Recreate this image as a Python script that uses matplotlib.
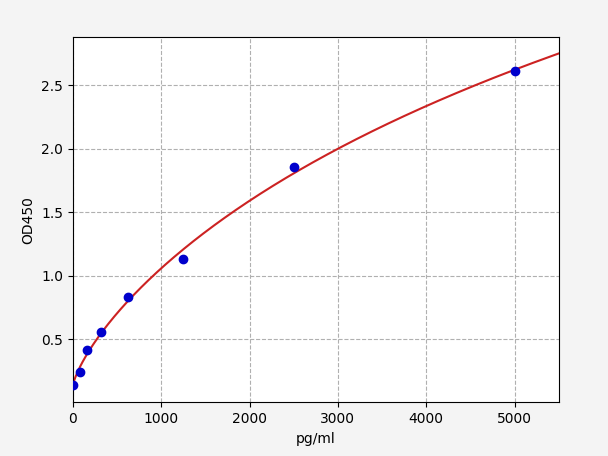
import numpy as np
import matplotlib
matplotlib.use('Agg')
import matplotlib.pyplot as plt

# standard points
conc = np.array([0, 78, 156, 312, 625, 1250, 2500, 5000])
od = np.array([0.138, 0.24, 0.415, 0.555, 0.83, 1.13, 1.855, 2.61])


# 4 parameter logistic
def f4pl(x, p):
    a, b, c, d = p
    return d + (a - d) / (1 + (np.maximum(x, 0) / c) ** b)


# simple Levenberg-Marquardt fit with numeric jacobian
p = np.array([0.15, 0.8, 5000.0, 5.0])
lam = 1e-2
for it in range(500):
    r = od - f4pl(conc, p)
    J = np.zeros((len(conc), 4))
    for k in range(4):
        dp = np.zeros(4)
        dp[k] = 1e-6 * max(abs(p[k]), 1e-3)
        J[:, k] = (f4pl(conc, p + dp) - f4pl(conc, p)) / dp[k]
    A = J.T @ J
    g = J.T @ r
    step = np.linalg.solve(A + lam * np.diag(np.diag(A)), g)
    pn = p + step
    if pn[1] > 0 and pn[2] > 0 and np.sum((od - f4pl(conc, pn)) ** 2) < np.sum(r ** 2):
        p = pn
        lam *= 0.5
    else:
        lam *= 4

xfit = np.linspace(0, 5500, 400)
yfit = f4pl(xfit, p)

fig = plt.figure(figsize=(6.08, 4.562), dpi=100, facecolor='#f4f4f4')
ax = fig.add_axes([0.12, 0.118, 0.799, 0.801])
ax.plot(xfit, yfit, color='#cc2222', lw=1.5, zorder=2)
ax.plot(conc, od, 'o', color='#0000cc', markersize=6, zorder=3)
ax.grid(True, linestyle='--', color='#b0b0b0', lw=0.8)
ax.set_xlim(0, 5500)
ax.set_ylim(0.005, 2.88)
ax.set_yticks([0.5, 1.0, 1.5, 2.0, 2.5])
ax.set_xlabel('pg/ml')
ax.set_ylabel('OD450')
fig.savefig('out.png', dpi=100, facecolor=fig.get_facecolor())
